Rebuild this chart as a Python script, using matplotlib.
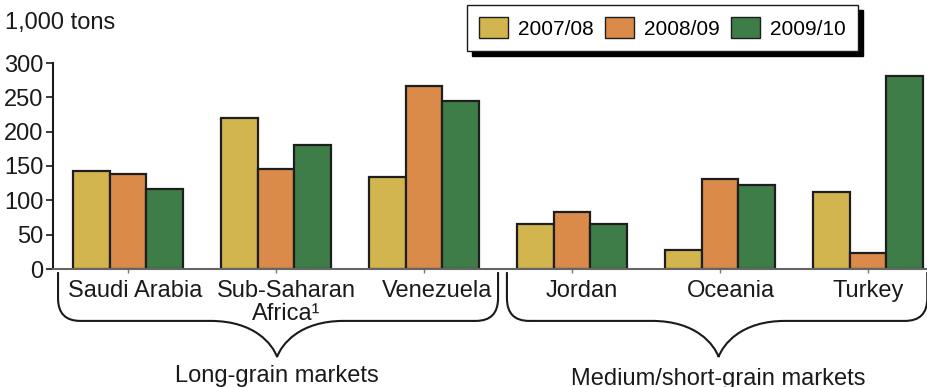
import matplotlib
matplotlib.use("Agg")
import matplotlib.pyplot as plt
import matplotlib.transforms as mtransforms
from matplotlib.path import Path
from matplotlib.patches import PathPatch
import numpy as np

# ---- data ----
categories = ["Saudi Arabia", "Sub-Saharan\nAfrica\u00b9", "Venezuela", "Jordan", "Oceania", "Turkey"]
seasons = ["2007/08", "2008/09", "2009/10"]
v2007_08 = [142, 220, 134, 65, 27, 112]
v2008_09 = [138, 145, 267, 83, 131, 23]
v2009_10 = [117, 181, 244, 65, 123, 281]
group_labels = ["Long-grain markets", "Medium/short-grain markets"]
yticks = [0, 50, 100, 150, 200, 250, 300]
unit_label = "1,000 tons"

# ---- style ----
colors = ["#D3B550", "#DA8B4A", "#3E7D48"]
label_nudge = [0.05, 0.07, 0.09, 0.065, 0.075, 0.0]

plt.rcParams["font.family"] = ["Liberation Sans", "DejaVu Sans"]
FS = 17

W, H = 928, 387
fig = plt.figure(figsize=(W / 100, H / 100), dpi=100)
ax = fig.add_axes([53 / W, 1 - 269 / H, 1 - 53 / W, 206 / H])

x = np.arange(len(categories))
bw = 0.248
for i, (vals, c, lab) in enumerate(zip([v2007_08, v2008_09, v2009_10], colors, seasons)):
    ax.bar(x + (i - 1) * bw, vals, bw, color=c, edgecolor="#1e1e1e",
           linewidth=1.6, label=lab, zorder=3)

ax.set_xlim(-0.507, 5.405)
ax.set_ylim(0, 300)
ax.set_yticks(yticks)
ax.set_yticklabels([str(t) for t in yticks], fontsize=FS, color="#1a1a1a")
ax.tick_params(axis="y", length=5, width=1.2, pad=2, color="#1a1a1a")
ax.set_xticks(x)
ax.set_xticklabels([])
ax.tick_params(axis="x", length=3, width=1.0, color="#777777")

for s in ["top", "right"]:
    ax.spines[s].set_visible(False)
ax.spines["left"].set_color("#1a1a1a")
ax.spines["left"].set_linewidth(1.5)
ax.spines["bottom"].set_color("#666666")
ax.spines["bottom"].set_linewidth(1.5)
ax.spines["bottom"].set_zorder(4)

trans = mtransforms.blended_transform_factory(ax.transData, ax.transAxes)

# category labels
for xi, cat, dx in zip(x, categories, label_nudge):
    ax.text(xi + dx, -0.055, cat, transform=trans, ha="center", va="top",
            fontsize=FS, color="#1a1a1a", linespacing=1.05, multialignment="center")

# braces
def brace(x0, x1, xc):
    ytop, ymid, ytip = -0.015, -0.252, -0.427
    rx, ry = 0.15, 0.11
    verts = [
        (x0, ytop), (x0, ymid + ry),
        (x0, ymid), (x0 + rx, ymid),
        (xc - 0.45, ymid),
        (xc - 0.15, ymid), (xc - 0.03, ytip + 0.06), (xc, ytip),
        (xc + 0.03, ytip + 0.06), (xc + 0.15, ymid), (xc + 0.45, ymid),
        (x1 - rx, ymid),
        (x1, ymid), (x1, ymid + ry),
        (x1, ytop),
    ]
    codes = [Path.MOVETO, Path.LINETO,
             Path.CURVE3, Path.CURVE3,
             Path.LINETO,
             Path.CURVE4, Path.CURVE4, Path.CURVE4,
             Path.CURVE4, Path.CURVE4, Path.CURVE4,
             Path.LINETO,
             Path.CURVE3, Path.CURVE3,
             Path.LINETO]
    p = PathPatch(Path(verts, codes), transform=trans, facecolor="none",
                  edgecolor="#1a1a1a", linewidth=1.5, clip_on=False)
    ax.add_patch(p)

brace_spans = [(-0.473, 2.50, 1.007), (2.56, 5.40, 3.99)]
label_y = [-0.549, -0.563]
for (x0, x1, xc), lab, ly in zip(brace_spans, group_labels, label_y):
    brace(x0, x1, xc)
    ax.text(xc, ly, lab, transform=trans, ha="center", va="baseline",
            fontsize=FS, color="#1a1a1a")

# unit label
fig.text(5 / W, 1 - 29 / H, unit_label, fontsize=FS, color="#1a1a1a",
         ha="left", va="baseline")

# legend
leg = ax.legend(loc="upper left", bbox_to_anchor=(467 / W, 1 - 5 / H),
                bbox_transform=fig.transFigure, ncol=3, fontsize=15,
                frameon=True, fancybox=False, borderaxespad=0,
                borderpad=0.6, handlelength=1.35, handleheight=1.15,
                handletextpad=0.48, columnspacing=0.58,
                shadow={"ox": 3.6, "oy": -3.6, "facecolor": "black",
                        "edgecolor": "black", "alpha": 1})
leg.get_frame().set_edgecolor("#1a1a1a")
leg.get_frame().set_linewidth(1.0)
for h in leg.legend_handles:
    h.set_linewidth(1.0)

fig.savefig("out.png", dpi=100)
